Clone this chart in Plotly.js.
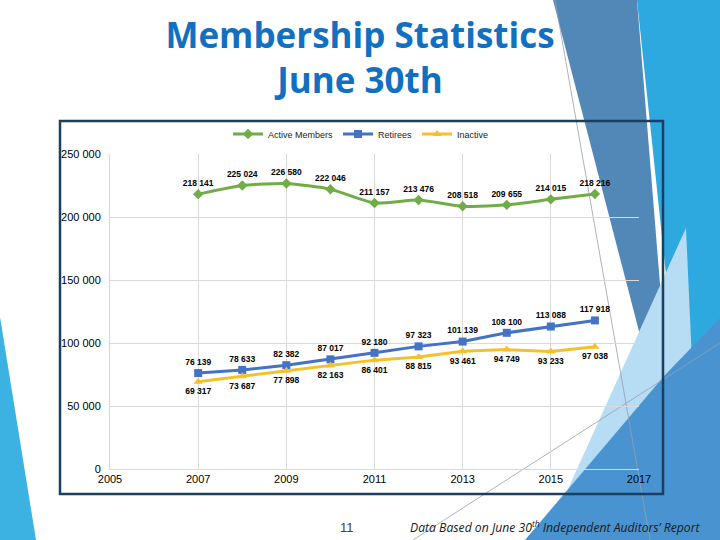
<!DOCTYPE html>
<html>
<head>
<meta charset="utf-8">
<script src="https://cdn.plot.ly/plotly-3.0.1.min.js"></script>
<style>
  html, body { margin: 0; padding: 0; background: #ffffff; }
  #chart { width: 720px; height: 540px; }
</style>
</head>
<body>
<div id="chart"></div>
<script>
// Membership counts as of June 30th, by year
const years = [2007, 2008, 2009, 2010, 2011, 2012, 2013, 2014, 2015, 2016];
const activeMembers = [218141, 225024, 226580, 222046, 211157, 213476, 208518, 209655, 214015, 218216];
const retirees = [76139, 78633, 82382, 87017, 92180, 97323, 101139, 108100, 113088, 117918];
const inactive = [69317, 73687, 77898, 82163, 86401, 88815, 93461, 94749, 93233, 97038];

const xTicks = [2005, 2007, 2009, 2011, 2013, 2015, 2017];
const yTicks = [0, 50000, 100000, 150000, 200000, 250000];

// Plot area geometry in page pixels, used to place slide decoration
const L = 110, R = 639, T = 154, B = 469;
const fx = x => (x - L) / (R - L);
const fy = y => (B - y) / (B - T);
function poly(pts) {
  return 'M ' + pts.map(p => fx(p[0]).toFixed(4) + ',' + fy(p[1]).toFixed(4)).join(' L ') + ' Z';
}
function deco(pts, color) {
  return { type: 'path', xref: 'paper', yref: 'paper', layer: 'below',
           path: poly(pts), fillcolor: color, line: { width: 0 } };
}
function thinLine(a, b) {
  return { type: 'line', xref: 'paper', yref: 'paper', layer: 'below',
           x0: fx(a[0]), y0: fy(a[1]), x1: fx(b[0]), y1: fy(b[1]),
           line: { color: 'rgba(150,160,170,0.8)', width: 1 } };
}

const labelFont = { family: 'Liberation Sans, Arial, sans-serif', size: 8.5, color: '#000000', weight: 'bold' };

const traces = [
  {
    name: 'Active Members', x: years, y: activeMembers,
    type: 'scatter', mode: 'lines+markers+text',
    line: { color: '#70ad47', width: 3, shape: 'spline', smoothing: 0.6 },
    marker: { symbol: 'diamond', size: 8, color: '#70ad47' },
    texttemplate: '%{y:,d}', textposition: 'top center', textfont: labelFont
  },
  {
    name: 'Retirees', x: years, y: retirees,
    type: 'scatter', mode: 'lines+markers+text',
    line: { color: '#4472c4', width: 3 },
    marker: { symbol: 'square', size: 8, color: '#4472c4' },
    texttemplate: '%{y:,d}', textposition: 'top center', textfont: labelFont
  },
  {
    name: 'Inactive', x: years, y: inactive,
    type: 'scatter', mode: 'lines+markers+text',
    line: { color: '#f5c12a', width: 3 },
    marker: { symbol: 'triangle-up', size: 8, color: '#f5c12a' },
    texttemplate: '%{y:,d}', textposition: 'bottom center', textfont: labelFont
  }
];

const shapes = [
  // slide background facets
  deco([[0, 317], [0, 540], [36, 540]], '#3cb2e3'),
  deco([[637, 0], [720, 0], [720, 540], [694, 540]], '#2ea9e0'),
  deco([[553, 0], [637, 0], [675, 470]], '#5288b8'),
  deco([[545, 540], [686, 228], [700, 540]], '#b6ddf3'),
  deco([[525, 540], [665, 375], [720, 318], [720, 540]], '#4a93d1'),
  thinLine([555, 0], [650, 540]),
  thinLine([413, 540], [720, 343]),
  // chart frame
  { type: 'rect', xref: 'paper', yref: 'paper',
    x0: fx(60), y0: fy(494), x1: fx(663), y1: fy(121),
    line: { color: '#1d3f5e', width: 2.5 }, fillcolor: 'rgba(0,0,0,0)' }
];

const layout = {
  width: 720, height: 540,
  margin: { l: L, r: 720 - R, t: T, b: 540 - B, autoexpand: false },
  paper_bgcolor: '#ffffff',
  plot_bgcolor: 'rgba(0,0,0,0)',
  separators: ', ',
  showlegend: true,
  font: { family: 'Liberation Sans, Arial, sans-serif', color: '#000000' },
  title: {
    text: '<b>Membership Statistics<br>June 30th</b>',
    x: 0.5, xref: 'container', xanchor: 'center',
    y: 0.912, yref: 'container', yanchor: 'middle',
    font: { family: 'Open Sans, Noto Sans, sans-serif', size: 35, color: '#1270c1' }
  },
  legend: {
    orientation: 'h', x: fx(361), xref: 'paper', xanchor: 'center',
    y: fy(134), yanchor: 'middle',
    font: { size: 9, color: '#222222' }, bgcolor: 'rgba(0,0,0,0)'
  },
  xaxis: {
    range: [2005, 2017], tickvals: xTicks, ticktext: xTicks.map(String),
    showgrid: true, gridcolor: '#d9d9d9', gridwidth: 1,
    zeroline: false, showline: true, linecolor: '#d9d9d9',
    ticks: '', tickfont: { size: 11, color: '#000000' }, fixedrange: true
  },
  yaxis: {
    range: [0, 250000], tickvals: yTicks, tickformat: ',d',
    showgrid: true, gridcolor: '#d9d9d9', gridwidth: 1,
    zeroline: false, showline: true, linecolor: '#d9d9d9',
    ticks: '', ticklabelstandoff: 6,
    tickfont: { size: 11, color: '#000000' }, fixedrange: true
  },
  shapes: shapes,
  annotations: [
    { text: '11', xref: 'paper', yref: 'paper', x: fx(347), y: fy(527),
      xanchor: 'center', yanchor: 'middle', showarrow: false,
      font: { family: 'Liberation Sans, Arial, sans-serif', size: 13, color: '#404040' } },
    { text: '<i>Data Based on June 30<sup>th</sup> Independent Auditors\u2019 Report</i>',
      xref: 'paper', yref: 'paper', x: fx(703), y: fy(527),
      xanchor: 'right', yanchor: 'middle', showarrow: false,
      font: { family: 'Open Sans, Noto Sans, sans-serif', size: 12.2, color: '#1a1a1a' } }
  ]
};

Plotly.newPlot('chart', traces, layout, { displayModeBar: false, staticPlot: true });
</script>
</body>
</html>
